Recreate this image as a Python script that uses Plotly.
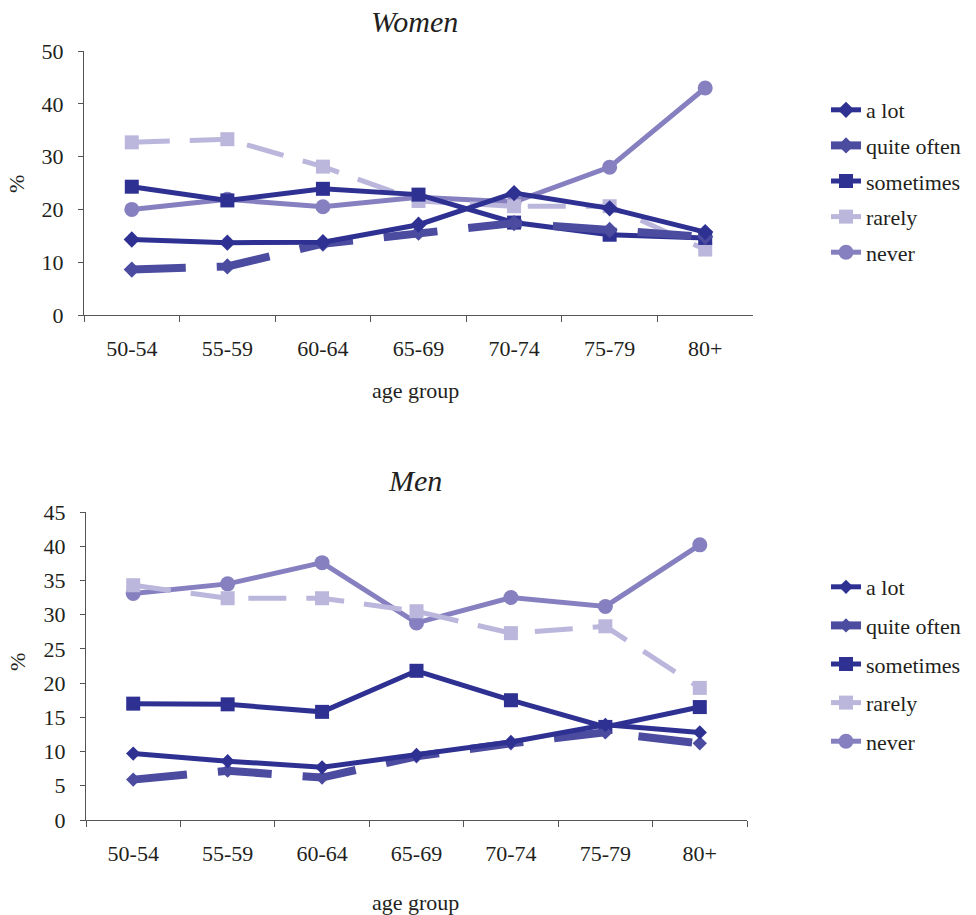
import plotly.graph_objects as go

# Age groups on the category axis
age_groups = ["50-54", "55-59", "60-64", "65-69", "70-74", "75-79", "80+"]
series_names = ["a lot", "quite often", "sometimes", "rarely", "never"]

# Women (%)
women_a_lot = [14.3, 13.7, 13.8, 17.1, 23.1, 20.2, 15.7]
women_quite_often = [8.6, 9.2, 13.5, 15.6, 17.4, 16.1, 14.8]
women_sometimes = [24.3, 21.7, 23.9, 22.8, 17.5, 15.2, 14.6]
women_rarely = [32.7, 33.3, 28.1, 21.6, 20.6, 20.6, 12.4]
women_never = [20.0, 21.9, 20.5, 22.3, 21.4, 28.0, 43.0]

# Men (%)
men_a_lot = [9.7, 8.6, 7.7, 9.5, 11.4, 13.9, 12.8]
men_quite_often = [5.9, 7.2, 6.2, 9.3, 11.2, 12.8, 11.2]
men_sometimes = [17.0, 16.9, 15.8, 21.8, 17.5, 13.6, 16.5]
men_rarely = [34.3, 32.4, 32.4, 30.5, 27.3, 28.3, 19.3]
men_never = [33.1, 34.5, 37.6, 28.8, 32.5, 31.2, 40.2]

W, H = 976, 915
FONT = "Liberation Serif"
TEXT = "#231f20"
AXIS = "#555555"

NAVY = "#2e3192"
INDIGO = "#4b4ba0"
LAVENDER = "#bbb6db"
PERIWINKLE = "#8680c0"

styles = {
    "a lot":       dict(color=NAVY, width=5, dash="solid", symbol="diamond"),
    "quite often": dict(color=INDIGO, width=8, dash="54px,31px", symbol="diamond"),
    "sometimes":   dict(color=NAVY, width=5, dash="solid", symbol="square"),
    "rarely":      dict(color=LAVENDER, width=5, dash="38px,20px", symbol="square"),
    "never":       dict(color=PERIWINKLE, width=5, dash="solid", symbol="circle"),
}
marker_sizes = {"diamond": 12.5, "square": 14, "circle": 15}

women = [women_a_lot, women_quite_often, women_sometimes, women_rarely, women_never]
men = [men_a_lot, men_quite_often, men_sometimes, men_rarely, men_never]

fig = go.Figure()

# Draw in reverse so that "a lot" sits on top
for panel, data, xa, ya, leg in [(0, women, "x", "y", "legend"),
                                 (1, men, "x2", "y2", "legend2")]:
    for i in range(len(series_names))[::-1]:
        name = series_names[i]
        s = styles[name]
        size = marker_sizes[s["symbol"]]
        if panel == 1 and s["symbol"] == "diamond":
            size = 11
        fig.add_trace(go.Scatter(
            x=age_groups, y=data[i], name=name, mode="lines+markers",
            xaxis=xa, yaxis=ya, legend=leg, legendgroup=f"{leg}-{name}",
            legendrank=i + 1,
            line=dict(color=s["color"], width=s["width"], dash=s["dash"]),
            marker=dict(symbol=s["symbol"], size=size, color=s["color"],
                        line=dict(width=0)),
        ))

def px_x(v):
    return v / W

def px_y(v):
    return 1 - v / H

axis_common = dict(showline=True, linecolor=AXIS, linewidth=1, showgrid=False,
                   zeroline=False, ticks="outside", tickcolor=AXIS,
                   automargin=False,
                   tickfont=dict(family=FONT, size=22, color=TEXT))

fig.update_layout(
    width=W, height=H,
    margin=dict(l=0, r=0, t=0, b=0, pad=0, autoexpand=False),
    paper_bgcolor="white", plot_bgcolor="white",
    font=dict(family=FONT, size=22, color=TEXT),
    xaxis=dict(domain=[px_x(84), px_x(753)], anchor="y", type="category",
               range=[-0.5, 6.5], tickson="boundaries", ticklen=6,
               ticklabelstandoff=14, **axis_common),
    yaxis=dict(domain=[px_y(315), px_y(51)], anchor="x", range=[0, 50],
               dtick=10, ticklen=5, ticklabelstandoff=10, **axis_common),
    xaxis2=dict(domain=[px_x(86), px_x(747)], anchor="y2", type="category",
                range=[-0.5, 6.5], tickson="boundaries", ticklen=6,
                ticklabelstandoff=14, **axis_common),
    yaxis2=dict(domain=[px_y(820), px_y(512)], anchor="x2", range=[0, 45],
                dtick=5, ticklen=5, ticklabelstandoff=10, **axis_common),
    legend=dict(x=px_x(826), y=px_y(89), xanchor="left", yanchor="top",
                font=dict(family=FONT, size=22, color=TEXT),
                tracegroupgap=4, bgcolor="rgba(0,0,0,0)"),
    legend2=dict(x=px_x(826), y=px_y(566), xanchor="left", yanchor="top",
                 font=dict(family=FONT, size=22, color=TEXT),
                 tracegroupgap=7, bgcolor="rgba(0,0,0,0)"),
)

annotations = [
    dict(text="Women", x=px_x(414), y=px_y(21), font=dict(size=30, style="italic")),
    dict(text="Men", x=px_x(415), y=px_y(480), font=dict(size=30, style="italic")),
    dict(text="age group", x=px_x(415), y=px_y(390), font=dict(size=22)),
    dict(text="age group", x=px_x(415), y=px_y(902), font=dict(size=22)),
    dict(text="%", x=px_x(17), y=px_y(184), font=dict(size=22), textangle=-90),
    dict(text="%", x=px_x(17), y=px_y(662), font=dict(size=22), textangle=-90),
]
for a in annotations:
    a.update(xref="paper", yref="paper", showarrow=False,
             xanchor="center", yanchor="middle")
    a["font"].update(family=FONT, color=TEXT)
fig.update_layout(annotations=annotations)

fig.write_html("out.html")
